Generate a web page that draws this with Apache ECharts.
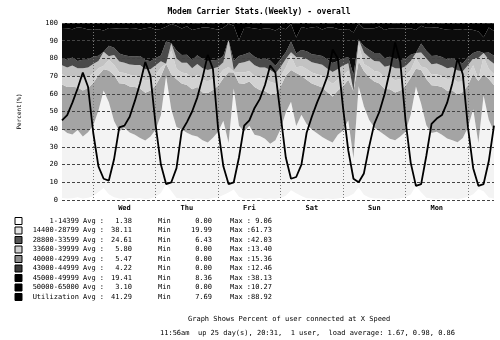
<!DOCTYPE html>
<html>
<head>
<meta charset="utf-8">
<script src="https://cdn.jsdelivr.net/npm/echarts@6/dist/echarts.min.js"></script>
<style>
html, body { margin: 0; padding: 0; background: #fff; }
#chart { width: 500px; height: 340px; }
</style>
</head>
<body>
<div id="chart"></div>
<script>
// samples every 2 hours, first one is Tue 12:00
var startHour = 12;
var stepHours = 2;
var dayNames = ['Tue', 'Wed', 'Thu', 'Fri', 'Sat', 'Sun', 'Mon', 'Tue'];

var speed1 = [1.2, 0.8, 1.0, 1.5, 0.9, 1.3,
  2.1, 4.5, 6.8, 3.2, 1.6, 0.9, 0.7, 1.1, 0.8, 1.0, 0.6, 0.9,
  1.8, 3.9, 9.0, 5.1, 1.2, 0.8, 1.0, 0.6, 0.9, 0.7, 0.5, 1.1,
  1.5, 2.8, 4.2, 6.0, 1.9, 0.7, 0.9, 0.8, 1.2, 0.6, 0.8, 0.7,
  1.1, 2.4, 5.5, 3.8, 2.2, 1.0, 0.8, 0.7, 0.6, 0.9, 0.5, 0.8,
  1.3, 2.0, 3.6, 7.2, 2.9, 1.4, 0.9, 0.8, 0.7, 0.6, 0.7, 0.9,
  1.6, 3.1, 8.1, 4.4, 1.3, 0.8, 0.6, 0.9, 0.7, 0.8, 0.6, 1.0,
  1.9, 3.3, 6.2, 5.0, 1.4, 0.9];
var speed2 = [39, 37, 36, 38, 35, 37,
  40, 46, 55, 52, 43, 38, 40, 37, 36, 34, 33, 35,
  38, 44, 61, 46, 40, 39, 37, 36, 35, 33, 32, 34,
  37, 42, 28, 57, 40, 38, 41, 36, 35, 34, 31, 33,
  39, 47, 50, 38, 46, 42, 39, 37, 35, 33, 32, 36,
  38, 43, 20, 57, 50, 44, 40, 38, 36, 34, 33, 35,
  37, 45, 56, 50, 41, 37, 38, 36, 34, 33, 32, 34,
  39, 48, 26, 54, 44, 38];
var speed3 = [25, 26, 27, 24, 26, 25,
  24, 20, 12, 18, 26, 27, 25, 26, 27, 28, 27, 26,
  25, 22, 7, 20, 27, 26, 27, 26, 28, 27, 28, 27,
  26, 24, 40, 9, 24, 27, 25, 27, 26, 27, 28, 26,
  24, 21, 18, 30, 22, 25, 26, 27, 28, 27, 26, 25,
  25, 23, 38, 14, 20, 24, 26, 27, 26, 28, 27, 26,
  26, 21, 10, 19, 26, 27, 26, 27, 27, 28, 27, 26,
  24, 20, 35, 12, 23, 26];
var speed4 = [6, 5.5, 6.2, 5.8, 6.5, 6,
  5.5, 4, 2, 6, 5.8, 6.3, 6.1, 6.6, 6.4, 7, 6.8, 6.2,
  5.9, 5, 0, 13.4, 6, 6.2, 6.5, 6.1, 6.8, 7.1, 6.6, 6.3,
  5.6, 4.8, 3, 0.5, 6.1, 6.4, 6, 6.3, 6.7, 6.9, 7, 6.1,
  5.8, 4.5, 8, 3, 5.5, 6, 6.2, 6.4, 6.6, 6.8, 7.2, 6.3,
  6.1, 5.2, 0, 9.5, 4, 5.8, 6, 6.5, 6.3, 7, 6.9, 6.4,
  5.7, 4.4, 6, 2, 6.3, 6.1, 6.4, 6.2, 6.6, 6.9, 7.1, 6,
  5.8, 4.9, 1, 10, 5.6, 6.2];
var speed5 = [5, 5.5, 5.8, 5.2, 6, 5.6,
  5.2, 4, 8, 2, 5.5, 6, 5.7, 5.9, 6.1, 6.3, 6.5, 5.8,
  5.4, 3.5, 0, 4, 5.8, 5.6, 6, 5.8, 6.2, 6.6, 6.4, 5.9,
  5.1, 4.2, 15.4, 1, 5.2, 5.7, 5.9, 6.1, 6, 6.4, 6.7, 5.6,
  5.3, 4.8, 2, 6, 5, 5.6, 5.8, 6, 6.2, 6.5, 6.6, 5.9,
  5.6, 4.1, 0, 3, 6.5, 5.5, 5.7, 6, 6.3, 6.4, 6.8, 6,
  5.2, 5, 3, 8, 5.4, 5.8, 6.1, 5.9, 6.2, 6.3, 6.5, 5.7,
  5.5, 3.8, 12, 2, 5.3, 5.9];
var speed6 = [4, 4.3, 4.5, 4.1, 4.8, 4.4,
  4.2, 3, 0, 6, 4.1, 4.5, 4.3, 4.6, 4.8, 5, 5.2, 4.5,
  4.1, 3.2, 12.5, 0, 4.4, 4.3, 4.6, 4.5, 4.9, 5.1, 5, 4.6,
  4, 3.5, 0, 5, 4.2, 4.4, 4.5, 4.7, 4.6, 5, 5.3, 4.4,
  4.3, 3.8, 6, 2, 4, 4.5, 4.6, 4.8, 4.9, 5.2, 5.1, 4.6,
  4.1, 3.3, 9, 0, 3.5, 4.2, 4.4, 4.7, 4.8, 5, 5.4, 4.7,
  4.2, 3.6, 0, 5, 4.3, 4.6, 4.5, 4.8, 4.7, 5.1, 5.2, 4.4,
  4.4, 3.1, 4, 0, 4.1, 4.5];
var speed7 = [17, 18, 16, 19, 18, 17,
  15, 15, 12, 10, 11, 14, 15, 16, 16, 15, 18, 19,
  16, 15, 8.4, 11, 14, 15, 16, 17, 15, 18, 19, 18,
  17, 16, 9, 20, 9, 15, 14, 16, 17, 17, 18, 20,
  18, 13, 10, 9, 13, 13, 15, 16, 15, 18, 20, 18,
  16, 16, 24, 9, 10, 12, 14, 15, 16, 16, 17, 18,
  17, 15, 13, 10, 13, 16, 16, 16, 17, 16, 18, 19,
  16, 13, 11, 9, 14, 14];
var speed8 = [3, 3, 3.5, 2.5, 3, 4,
  4, 3.5, 4.5, 3, 3, 3.5, 3.5, 3, 3, 4, 3, 3,
  4, 3.5, 2.5, 0.5, 2, 3, 2, 4, 3, 2.5, 2.5, 3,
  4, 3, 0.5, 1.5, 10, 3, 3, 3, 3.5, 3, 3, 4,
  2.5, 3.5, 0.5, 8, 2.5, 3, 2.5, 2, 4, 2.5, 2.5, 3.5,
  4, 3.5, 5.5, 0.5, 3, 3, 3, 2, 4, 3, 3, 3,
  3.5, 3, 4, 1.5, 3, 3, 2.5, 3, 4, 4, 3.5, 4,
  3.5, 4, 5, 8, 2.5, 4.5];
var utilization = [45, 48, 55, 63, 72, 64,
  38, 19, 12, 11, 23, 41, 42, 47, 56, 66, 78, 70,
  42, 20, 9, 10, 18, 39, 44, 50, 58, 69, 82, 74,
  40, 19, 9, 10, 24, 42, 45, 52, 57, 65, 76, 72,
  48, 24, 12, 13, 20, 38, 47, 55, 62, 70, 85, 80,
  52, 28, 12, 10, 15, 30, 43, 50, 60, 73, 89, 78,
  45, 21, 8, 9, 25, 43, 46, 48, 55, 66, 80, 71,
  41, 18, 8, 9, 22, 42];

var rowNames = ['1-14399', '14400-28799', '28800-33599', '33600-39999', '40000-42999',
  '43000-44999', '45000-49999', '50000-65000', 'Utilization'];
var avgVals = ['1.38', '38.11', '24.61', '5.80', '5.47', '4.22', '19.41', '3.10', '41.29'];
var minVals = ['0.00', '19.99', '6.43', '0.00', '0.00', '0.00', '8.36', '0.00', '7.69'];
var maxVals = ['9.06', '61.73', '42.03', '13.40', '15.36', '12.46', '38.13', '10.27', '88.92'];

var titleText = 'Modem Carrier Stats.(Weekly) - overall';
var noteText = 'Graph Shows Percent of user connected at X Speed';
var uptimeText = '11:56am  up 25 day(s), 20:31,  1 user,  load average: 1.67, 0.98, 0.86';

var stackSeries = [speed1, speed2, speed3, speed4, speed5, speed6, speed7, speed8];
var fills = ['#ffffff', '#f3f3f3', '#a4a4a4', '#d2d2d2', '#c2c2c2', '#4a4a4a', '#0c0c0c', '#000000'];
var swatches = ['#ffffff', '#e4e4e4', '#555555', '#cfcfcf', '#8c8c8c', '#3a3a3a', '#000000', '#000000', '#000000'];

var mono = '"DejaVu Sans Mono", monospace';

var categories = [];
for (var i = 0; i < utilization.length; i++) {
    var h = startHour + i * stepHours;
    var hh = h % 24;
    categories.push(dayNames[Math.floor(h / 24)] + ' ' + (hh < 10 ? '0' : '') + hh + ':00');
}

function hourOf(idx) {
    return (startHour + idx * stepHours) % 24;
}

var series = stackSeries.map(function (vals, k) {
    return {
        name: rowNames[k],
        type: 'line',
        stack: 'speed',
        data: vals,
        symbol: 'none',
        lineStyle: { width: 0 },
        areaStyle: { color: fills[k], opacity: 1 },
        itemStyle: { color: fills[k] },
        z: 2
    };
});
series.push({
    name: 'Utilization',
    type: 'line',
    data: utilization,
    symbol: 'none',
    lineStyle: { color: '#000', width: 1.8 },
    itemStyle: { color: '#000' },
    z: 10
});

// legend table under the plot
var graphics = [];
var rowTop = 221, rowStep = 9.5;
rowNames.forEach(function (name, r) {
    var y = rowTop + r * rowStep;
    var font = '7px ' + mono;
    graphics.push({ type: 'rect', shape: { x: 15, y: y - 3.5, width: 7, height: 7 },
        style: { fill: swatches[r], stroke: '#000', lineWidth: 1 } });
    var cells = [
        [name, 79, 'right'], ['Avg :', 83, 'left'], [avgVals[r], 132, 'right'],
        ['Min', 158, 'left'], [minVals[r], 212, 'right'],
        ['Max :', 230, 'left'], [maxVals[r], 272, 'right']
    ];
    cells.forEach(function (c) {
        graphics.push({ type: 'text', x: c[1], y: y,
            style: { text: c[0], font: font, fill: '#000', align: c[2], verticalAlign: 'middle' } });
    });
});
graphics.push({ type: 'text', x: 259, y: 12,
    style: { text: titleText, font: 'bold 8px ' + mono, fill: '#000', align: 'center', verticalAlign: 'middle' } });
graphics.push({ type: 'text', x: 188, y: 319,
    style: { text: noteText, font: '7px ' + mono, fill: '#000', align: 'left', verticalAlign: 'middle' } });
graphics.push({ type: 'text', x: 160, y: 333,
    style: { text: uptimeText, font: '7px ' + mono, fill: '#000', align: 'left', verticalAlign: 'middle' } });

var chart = echarts.init(document.getElementById('chart'));
chart.setOption({
    animation: false,
    backgroundColor: '#fff',
    grid: { left: 62, right: 6, top: 23, bottom: 140 },
    xAxis: {
        type: 'category',
        data: categories,
        boundaryGap: false,
        z: 3,
        axisLine: { show: false },
        axisTick: { show: false },
        axisLabel: {
            interval: function (idx) {
                return hourOf(idx) === 12 && idx > 0;
            },
            formatter: function (v) { return v.split(' ')[0]; },
            fontFamily: mono,
            fontSize: 7,
            fontWeight: 'bold',
            color: '#000',
            margin: 5
        },
        splitLine: {
            show: true,
            interval: function (idx) { return hourOf(idx) === 0; },
            lineStyle: { color: '#777', type: [1, 2], width: 1 }
        }
    },
    yAxis: {
        type: 'value',
        min: 0,
        max: 100,
        interval: 10,
        z: 3,
        name: 'Percent(%)',
        nameLocation: 'middle',
        nameRotate: 90,
        nameGap: 40,
        nameTextStyle: { fontFamily: mono, fontSize: 6, color: '#000' },
        axisLine: { show: false },
        axisTick: { show: false },
        axisLabel: { fontFamily: mono, fontSize: 7, color: '#000', margin: 4 },
        splitLine: { lineStyle: { color: '#444', type: [3, 2], width: 1 } }
    },
    series: series,
    graphic: graphics
});
</script>
</body>
</html>
